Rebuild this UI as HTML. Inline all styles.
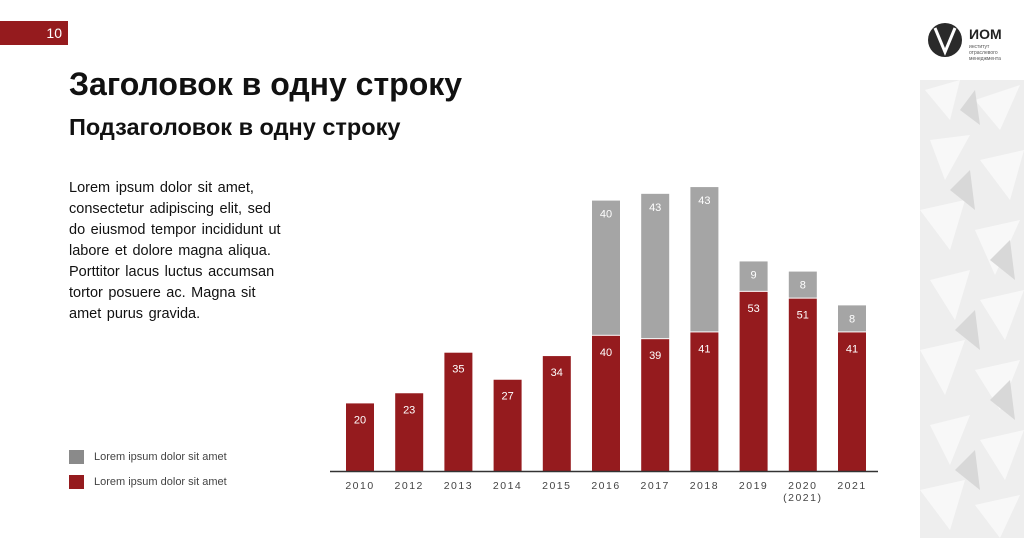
<!DOCTYPE html>
<html><head><meta charset="utf-8"><style>
body{margin:0;width:1024px;height:538px;background:#fff;position:relative;overflow:hidden;font-family:"Liberation Sans",sans-serif;}
.abs{position:absolute;}
</style></head><body>
<div class="abs" style="left:0;top:21px;width:68px;height:24px;background:#951b1e;color:#fff;font-size:14px;line-height:24px;text-align:right;box-sizing:border-box;padding-right:6px;">10</div>
<div class="abs" style="left:69px;top:66px;font-size:32px;font-weight:bold;color:#111;">Заголовок в одну строку</div>
<div class="abs" style="left:69px;top:114px;font-size:23.5px;font-weight:bold;color:#111;">Подзаголовок в одну строку</div>
<div class="abs" style="left:69px;top:178px;width:260px;font-size:14.5px;line-height:21px;color:#111;word-spacing:1.5px;white-space:nowrap;">Lorem ipsum dolor sit amet,<br>consectetur adipiscing elit, sed<br>do eiusmod tempor incididunt ut<br>labore et dolore magna aliqua.<br>Porttitor lacus luctus accumsan<br>tortor posuere ac. Magna sit<br>amet purus gravida.</div>
<div class="abs" style="left:69px;top:450px;font-size:11px;color:#444;"><span style="display:inline-block;width:15px;height:14px;background:#8a8a8a;vertical-align:middle;margin-right:10px;"></span>Lorem ipsum dolor sit amet</div>
<div class="abs" style="left:69px;top:475px;font-size:11px;color:#444;"><span style="display:inline-block;width:15px;height:14px;background:#951b1e;vertical-align:middle;margin-right:10px;"></span>Lorem ipsum dolor sit amet</div>

<svg class="abs" style="left:920px;top:80px;" width="104" height="458">
<rect width="104" height="458" fill="#eeeeee"/>
<g fill="#fafafa" opacity="0.9">
<polygon points="5,10 40,0 30,40"/><polygon points="55,20 100,5 80,50"/><polygon points="10,60 50,55 25,100"/><polygon points="60,80 104,70 90,120"/>
<polygon points="0,130 45,120 30,170"/><polygon points="55,150 100,140 75,195"/><polygon points="10,200 50,190 35,240"/><polygon points="60,220 104,210 85,260"/>
<polygon points="0,270 45,260 25,315"/><polygon points="55,290 100,280 80,330"/><polygon points="10,345 50,335 30,385"/><polygon points="60,360 104,350 85,400"/>
<polygon points="0,410 45,400 30,450"/><polygon points="55,425 100,415 80,458"/>
</g>
<g fill="#d8d8d8"><polygon points="40,30 55,10 60,45"/><polygon points="30,110 50,90 55,130"/><polygon points="70,180 90,160 95,200"/><polygon points="35,250 55,230 60,270"/><polygon points="70,320 90,300 95,340"/><polygon points="35,390 55,370 60,410"/></g>
</svg>

<svg class="abs" style="left:925px;top:20px;" width="99" height="45">
<circle cx="20" cy="20" r="17" fill="#2a2a2a"/>
<path d="M10 8 L20 32 L30 8" stroke="#fff" stroke-width="3" fill="none"/>
<text x="44" y="19" font-family="Liberation Sans" font-weight="bold" font-size="14" fill="#222">ИОМ</text>
<text x="44" y="28" font-family="Liberation Sans" font-size="5" fill="#555">институт</text>
<text x="44" y="34" font-family="Liberation Sans" font-size="5" fill="#555">отраслевого</text>
<text x="44" y="40" font-family="Liberation Sans" font-size="5" fill="#555">менеджмента</text>
</svg>

<svg id="chart" class="abs" style="left:0;top:0;" width="1024" height="538"></svg>
<script>
const categories=["2010","2012","2013","2014","2015","2016","2017","2018","2019","2020","2021"];
const redValues=[20,23,35,27,34,40,39,41,53,51,41];
const grayValues=[0,0,0,0,0,40,43,43,9,8,8];
const svg=document.getElementById('chart');
const NS='http://www.w3.org/2000/svg';
const baseY=471,scale=3.38,x0=360,step=49.2,bw=28;
function xPos(i){return x0+i*step;}
function yLen(v){return v*scale;}
function mk(t,a){const e=document.createElementNS(NS,t);for(const k in a)e.setAttribute(k,a[k]);svg.appendChild(e);return e;}
categories.forEach((c,i)=>{
  const cx=xPos(i);
  const rh=yLen(redValues[i]);
  const r=mk('rect',{x:cx-bw/2,y:baseY-rh,width:bw,height:rh,fill:'#951b1e'});
  
  
  const rt=mk('text',{x:cx,y:baseY-rh+20,'text-anchor':'middle','font-size':'11',fill:'#fff','font-family':'Liberation Sans'});
  rt.textContent=redValues[i];
  
  
  if(grayValues[i]>0){
    const gh=yLen(grayValues[i]);
    const g=mk('rect',{x:cx-bw/2,y:baseY-rh-gh,width:bw,height:gh-1,fill:'#a5a5a5'});
    
    
    const gt=mk('text',{x:cx,y:baseY-rh-gh+17,'text-anchor':'middle','font-size':'11',fill:'#fff','font-family':'Liberation Sans'});
    gt.textContent=grayValues[i];
    
    
  }
  const lt=mk('text',{x:cx,y:489,'text-anchor':'middle','font-size':'10.5',fill:'#444','font-family':'Liberation Sans','letter-spacing':'1.5'});
  lt.textContent=c;
  
  
  if(c==='2020'){
    const l2=mk('text',{x:cx,y:501,'text-anchor':'middle','font-size':'10.5',fill:'#444','font-family':'Liberation Sans','letter-spacing':'1.5'});
    l2.textContent='(2021)';
    
    
  }
});
const ax=mk('line',{x1:330,x2:878,y1:baseY+0.5,y2:baseY+0.5,stroke:'#333','stroke-width':'1.5'});


</script>
</body></html>
